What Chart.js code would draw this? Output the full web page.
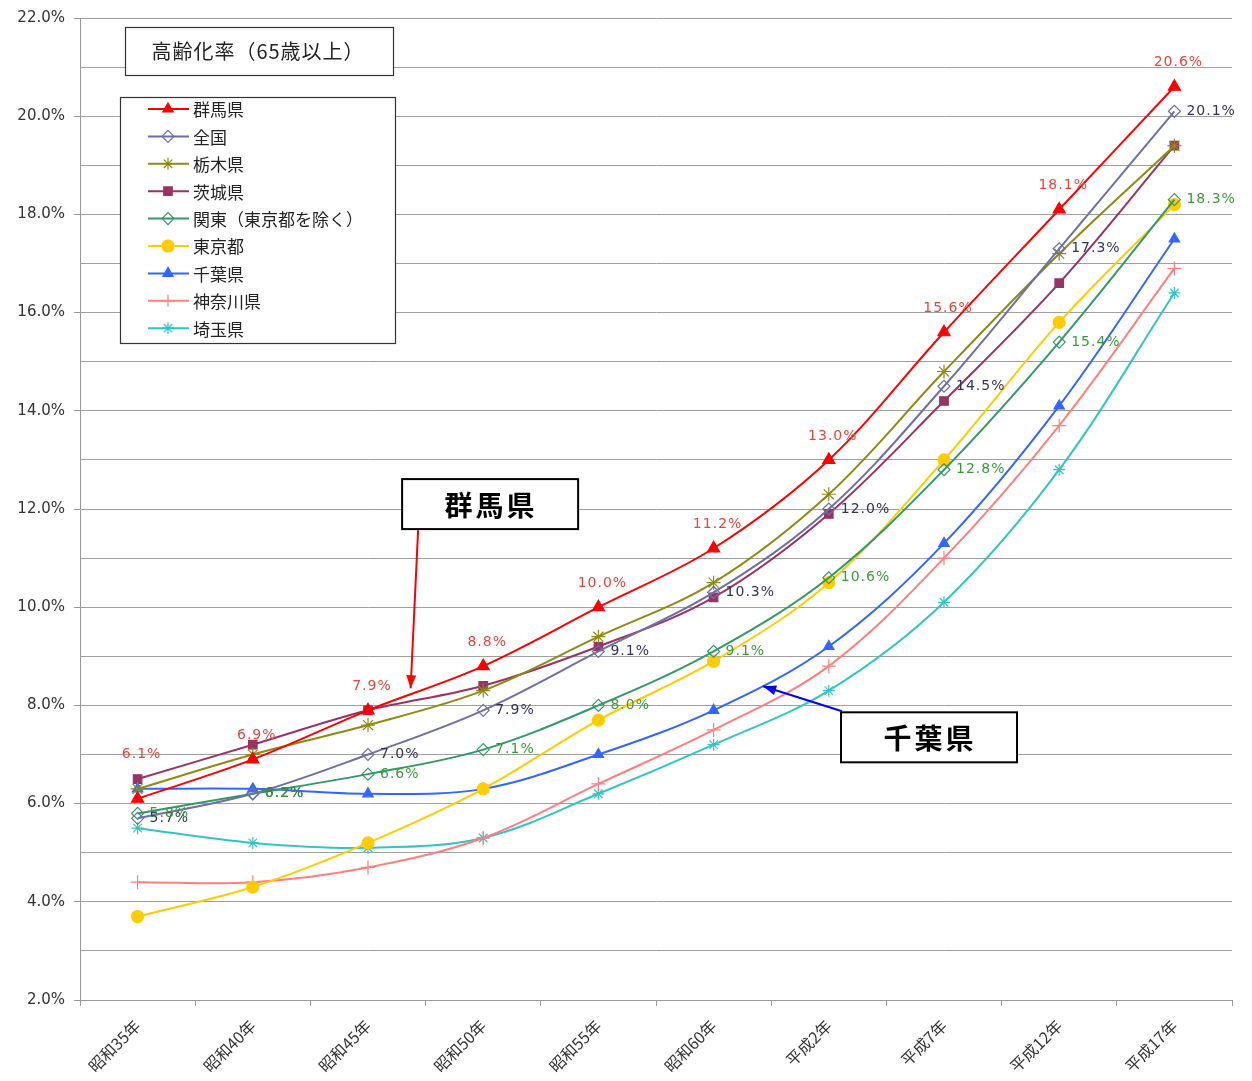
<!DOCTYPE html>
<html>
<head>
<meta charset="utf-8">
<script src="https://cdn.jsdelivr.net/npm/chart.js@4.4.1/dist/chart.umd.min.js"></script>
<style>
  html, body { margin: 0; padding: 0; background: #fff; }
  #wrap { width: 1252px; height: 1081px; }
</style>
</head>
<body>
<div id="wrap"><canvas id="myChart" width="1252" height="1081"></canvas></div>
<script>
// categories (x axis)
var categories = ["昭和35年", "昭和40年", "昭和45年", "昭和50年", "昭和55年", "昭和60年", "平成2年", "平成7年", "平成12年", "平成17年"];

// series values (%)
var gunma    = [6.1, 6.9, 7.9, 8.8, 10.0, 11.2, 13.0, 15.6, 18.1, 20.6];
var zenkoku  = [5.7, 6.2, 7.0, 7.9, 9.1, 10.3, 12.0, 14.5, 17.3, 20.1];
var tochigi  = [6.3, 7.0, 7.6, 8.3, 9.4, 10.5, 12.3, 14.8, 17.2, 19.4];
var ibaraki  = [6.5, 7.2, 7.9, 8.4, 9.2, 10.2, 11.9, 14.2, 16.6, 19.4];
var kanto    = [5.8, 6.2, 6.6, 7.1, 8.0, 9.1, 10.6, 12.8, 15.4, 18.3];
var tokyo    = [3.7, 4.3, 5.2, 6.3, 7.7, 8.9, 10.5, 13.0, 15.8, 18.2];
var chiba    = [6.3, 6.3, 6.2, 6.3, 7.0, 7.9, 9.2, 11.3, 14.1, 17.5];
var kanagawa = [4.4, 4.4, 4.7, 5.3, 6.4, 7.5, 8.8, 11.0, 13.7, 16.9];
var saitama  = [5.5, 5.2, 5.1, 5.3, 6.2, 7.2, 8.3, 10.1, 12.8, 16.4];

// series names
var seriesNames = ["群馬県", "全国", "栃木県", "茨城県", "関東（東京都を除く）", "東京都", "千葉県", "神奈川県", "埼玉県"];

// y axis range / tick step
var yMin = 2, yMax = 22, yStep = 1;

var chartTitle = "高齢化率（65歳以上）";

var JP = '"Noto Sans CJK JP", "DejaVu Sans", sans-serif';
var NUM = '"DejaVu Sans", sans-serif';

function line(label, data, color, style, radius, fill) {
  return {
    label: label,
    data: data,
    borderColor: color,
    backgroundColor: fill ? color : '#ffffff',
    pointBorderColor: color,
    pointBackgroundColor: fill ? color : 'rgba(255,255,255,0)',
    pointStyle: style,
    pointRadius: radius,
    pointBorderWidth: 1.2,
    borderWidth: 2,
    tension: 0.35,
    fill: false
  };
}

var datasets = [
  line(seriesNames[0], gunma, '#ff0000', 'triangle', 7, true),
  line(seriesNames[1], zenkoku, '#6f6fa6', 'rectRot', 6, false),
  line(seriesNames[2], tochigi, '#8c8c14', 'star', 7, false),
  line(seriesNames[3], ibaraki, '#993366', 'rect', 6, true),
  line(seriesNames[4], kanto, '#339966', 'rectRot', 6, false),
  line(seriesNames[5], tokyo, '#ffcc00', 'circle', 6, true),
  line(seriesNames[6], chiba, '#3366ff', 'triangle', 6, true),
  line(seriesNames[7], kanagawa, '#ff7f7f', 'cross', 7, false),
  line(seriesNames[8], saitama, '#33c4c4', 'star', 6, false)
];

// which series get value labels, and how
var labelSets = [
  { index: 0, pos: 'above', color: '#e8453c', liftFirst: 20 },
  { index: 1, pos: 'right', color: '#33335a' },
  { index: 4, pos: 'right', color: '#3c9a3c' }
];

// value labels drawn after the datasets
var valueLabels = {
  id: 'valueLabels',
  afterDatasetsDraw: function(chart) {
    var ctx = chart.ctx;
    ctx.save();
    ctx.font = '14px ' + NUM;
    ctx.letterSpacing = '1px';
    labelSets.forEach(function(s) {
      var meta = chart.getDatasetMeta(s.index);
      var vals = chart.data.datasets[s.index].data;
      meta.data.forEach(function(pt, i) {
        var txt = vals[i].toFixed(1) + '%';
        ctx.fillStyle = s.color;
        ctx.textBaseline = 'middle';
        if (s.pos === 'above') {
          ctx.textAlign = 'center';
          var lift = 24 + (i === 0 && s.liftFirst ? s.liftFirst : 0);
          ctx.fillText(txt, pt.x + 4, pt.y - lift);
        } else {
          ctx.textAlign = 'left';
          ctx.fillText(txt, pt.x + 12, pt.y);
        }
      });
    });
    ctx.restore();
  }
};

function arrow(ctx, x1, y1, x2, y2, color) {
  ctx.save();
  ctx.strokeStyle = color;
  ctx.fillStyle = color;
  ctx.lineWidth = 2;
  ctx.beginPath();
  ctx.moveTo(x1, y1);
  ctx.lineTo(x2, y2);
  ctx.stroke();
  var a = Math.atan2(y2 - y1, x2 - x1);
  var len = 13, w = 5;
  ctx.beginPath();
  ctx.moveTo(x2, y2);
  ctx.lineTo(x2 - len * Math.cos(a) + w * Math.sin(a), y2 - len * Math.sin(a) - w * Math.cos(a));
  ctx.lineTo(x2 - len * Math.cos(a) - w * Math.sin(a), y2 - len * Math.sin(a) + w * Math.cos(a));
  ctx.closePath();
  ctx.fill();
  ctx.restore();
}

// title box, legend box and callouts
var overlay = {
  id: 'overlay',
  afterDraw: function(chart) {
    var ctx = chart.ctx;
    var xs = chart.scales.x, ys = chart.scales.y;
    ctx.save();

    // title box
    ctx.fillStyle = '#fff';
    ctx.fillRect(125, 27, 268, 48);
    ctx.strokeStyle = '#333';
    ctx.lineWidth = 1.2;
    ctx.strokeRect(125.5, 27.5, 268, 48);
    ctx.fillStyle = '#222';
    ctx.font = '20px ' + JP;
    ctx.letterSpacing = '1px';
    ctx.textAlign = 'center';
    ctx.textBaseline = 'middle';
    ctx.fillText(chartTitle, 258, 51);
    ctx.letterSpacing = '0px';

    // legend box
    ctx.fillStyle = '#fff';
    ctx.fillRect(120, 97, 275, 246);
    ctx.strokeStyle = '#333';
    ctx.strokeRect(120.5, 97.5, 275, 246);
    ctx.font = '17px ' + JP;
    ctx.textAlign = 'left';
    chart.data.datasets.forEach(function(ds, i) {
      var y = 109 + i * 27.4;
      ctx.strokeStyle = ds.borderColor;
      ctx.lineWidth = 2;
      ctx.beginPath();
      ctx.moveTo(148, y);
      ctx.lineTo(189, y);
      ctx.stroke();
      ctx.fillStyle = ds.pointBackgroundColor;
      ctx.strokeStyle = ds.pointBorderColor;
      ctx.lineWidth = 1.2;
      Chart.helpers.drawPoint(ctx, { pointStyle: ds.pointStyle, radius: Math.min(ds.pointRadius, 6), rotation: 0, borderWidth: 1.2 }, 168, y);
      ctx.fillStyle = '#222';
      ctx.fillText(ds.label, 193, y + 1);
    });

    // 群馬県 callout
    var gx = xs.getPixelForValue(3.06), gy = ys.getPixelForValue(12.1);
    ctx.fillStyle = '#fff';
    ctx.fillRect(gx - 88, gy - 25, 176, 50);
    ctx.strokeStyle = '#000';
    ctx.lineWidth = 2;
    ctx.strokeRect(gx - 88, gy - 25, 176, 50);
    ctx.fillStyle = '#000';
    ctx.font = 'bold 28px ' + JP;
    ctx.letterSpacing = '3px';
    ctx.textAlign = 'center';
    ctx.fillText('群馬県', gx + 1, gy + 1);
    arrow(ctx, gx - 72, gy + 26, xs.getPixelForValue(2.37), ys.getPixelForValue(8.35), '#ff0000');

    // 千葉県 callout
    var cx = xs.getPixelForValue(6.87), cy = ys.getPixelForValue(7.35);
    ctx.fillStyle = '#fff';
    ctx.fillRect(cx - 88, cy - 25, 176, 50);
    ctx.strokeStyle = '#000';
    ctx.strokeRect(cx - 88, cy - 25, 176, 50);
    ctx.fillStyle = '#000';
    ctx.fillText('千葉県', cx + 1, cy + 1);
    ctx.letterSpacing = '0px';
    arrow(ctx, cx - 87, cy - 26, xs.getPixelForValue(5.43), ys.getPixelForValue(8.39), '#0000ff');

    ctx.restore();
  }
};

new Chart("myChart", {
  type: "line",
  data: {
    labels: categories,
    datasets: datasets
  },
  options: {
    responsive: false,
    animation: false,
    layout: { padding: { top: 17, right: 20, left: 0, bottom: 0 } },
    plugins: {
      legend: { display: false },
      title: { display: false },
      tooltip: { enabled: false }
    },
    scales: {
      x: {
        offset: true,
        grid: { display: true, drawOnChartArea: false, drawTicks: true, tickLength: 6, offset: true, color: '#999' },
        border: { color: '#999', width: 1 },
        ticks: {
          color: '#333',
          font: { family: JP, size: 16 },
          maxRotation: 45,
          minRotation: 45,
          autoSkip: false,
          padding: 10
        },
        afterFit: function(scale) { scale.height = 81; }
      },
      y: {
        min: yMin,
        max: yMax,
        grid: {
          color: '#a0a0a0',
          tickLength: 6,
          lineWidth: 1,
          // tick marks only next to the labelled (even) values
          tickColor: function(c) { return c.tick && c.tick.value % 2 === 0 ? '#999' : 'rgba(0,0,0,0)'; }
        },
        border: { color: '#999', width: 1 },
        ticks: {
          stepSize: yStep,
          autoSkip: false,
          color: '#333',
          padding: 9,
          font: { family: NUM, size: 15 },
          callback: function(v) { return v % 2 === 0 ? v.toFixed(1) + '%' : ''; }
        },
        afterFit: function(scale) { scale.width = 80; }
      }
    }
  },
  plugins: [valueLabels, overlay]
});
</script>
</body>
</html>
